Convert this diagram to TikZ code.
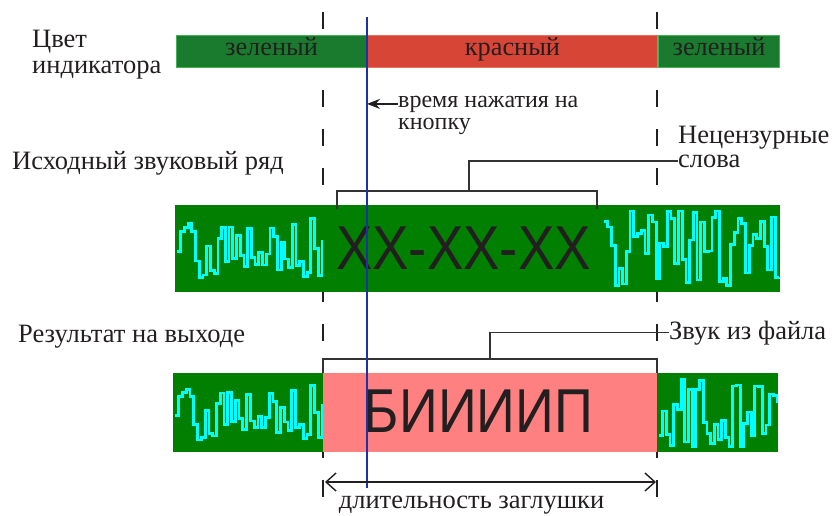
\documentclass[tikz,border=0pt]{standalone}
\usepackage{fontspec}
\setmainfont{Liberation Serif}
\newfontfamily\bigsansA[FakeStretch=0.88]{Liberation Sans}
\newfontfamily\bigsansB[FakeStretch=0.87]{Liberation Sans}
\usetikzlibrary{arrows.meta}
\definecolor{topgreen}{HTML}{1A7B2E}
\definecolor{topgreenedge}{HTML}{45B055}
\definecolor{topred}{HTML}{D74537}
\definecolor{toprededge}{HTML}{E8705F}
\definecolor{wavegreen}{HTML}{007F00}
\definecolor{wavecyan}{HTML}{00FFFF}
\definecolor{beeppink}{HTML}{FF8080}
\definecolor{pressblue}{HTML}{2030A8}
\definecolor{inktext}{HTML}{231F20}
\definecolor{brackgray}{HTML}{333333}
\begin{document}
\begin{tikzpicture}[x=1pt,y=-1pt,
  lbl/.style={font=\fontsize{26.5}{28}\selectfont, text=inktext, inner sep=0pt, anchor=base west},
  indbar/.style={font=\fontsize{26.3}{28}\selectfont, text=inktext, inner sep=0pt, outer sep=0pt, line width=1.2pt, minimum height=32pt, text height=8pt, text depth=0pt},
  wavebar/.style={inner sep=0pt, outer sep=0pt, draw=none},
  bigtxt/.style={font=\fontsize{62}{64}\selectfont, text=inktext, inner sep=0pt},
  guide/.style={draw=inktext, line width=1.3pt, dash pattern=on 17pt off 22pt},
  brk/.style={draw=brackgray, line width=1.4pt},
  wave/.style={draw=wavecyan, line width=2.8pt, line join=miter},
]
\useasboundingbox (0,0) rectangle (832,515);

% guide lines (dashed)
\coordinate (gl1) at (323,12);  \coordinate (gl2) at (323,505);
\coordinate (gr1) at (657,12);  \coordinate (gr2) at (657,505);
\draw[guide] (gl1) -- (gl2);
\draw[guide] (gr1) -- (gr2);

% indicator bar
\node[lbl] (cvet) at (32,47) {Цвет};
\node[lbl] (indik) at (32,73) {индикатора};
\node[indbar, fill=topgreen, draw=topgreenedge, minimum width=190pt] (ig1) at (271.5,51.5) {зеленый};
\node[indbar, fill=topred, draw=toprededge, minimum width=290pt] (ir) at (512.5,51.5) {красный};
\node[indbar, fill=topgreen, draw=topgreenedge, minimum width=121pt] (ig2) at (719,51.5) {зеленый};

% press time
\node[lbl, font=\fontsize{24}{26}\selectfont] (press1) at (398,107) {время нажатия на};
\node[lbl, font=\fontsize{24}{26}\selectfont] (press2) at (398,129) {кнопку};

% source sound row
\node[lbl] (src) at (12,169) {Исходный звуковый ряд};
\node[lbl] (nec1) at (678,143) {Нецензурные};
\node[lbl] (nec2) at (678,167) {слова};

\node[wavebar, fill=wavegreen, minimum width=605pt, minimum height=87pt] (w1) at (477.5,248.5) {};
\begin{scope}
  \clip (175,205) rectangle (780,292);
  \pgfmathsetseed{11}
  \draw[wave] plot[const plot, samples=40, domain=177:322] (\x,{249+sin(90*rand)*(21+19*((\x-250)/72)^2)});
  \pgfmathsetseed{23}
  \draw[wave] plot[const plot, samples=48, domain=604:779] (\x,{249+38*sin(90*rand)});
\end{scope}
\node[bigtxt, font=\bigsansA\fontsize{62}{64}\selectfont] (xx) at (463.5,248.5) {XX-XX-XX};

% bracket over obscene words
\coordinate (b1l) at (337,209); \coordinate (b1r) at (597,209);
\coordinate (b1lt) at (337,191); \coordinate (b1rt) at (597,191);
\coordinate (b1s) at (469,191);
\draw[brk] (b1l) -- (b1lt) -- (b1rt) -- (b1r);
\draw[brk] (b1s) |- (nec2.west);

% output row
\node[lbl] (res) at (18,342) {Результат на выходе};
\node[lbl] (zvuk) at (669,339) {Звук из файла};

\node[wavebar, fill=wavegreen, minimum width=150pt, minimum height=79pt] (w2l) at (248,412.5) {};
\node[wavebar, fill=wavegreen, minimum width=121pt, minimum height=79pt] (w2r) at (717.5,412.5) {};
\begin{scope}
  \clip (173,373) rectangle (778,452);
  \pgfmathsetseed{11}
  \draw[wave] plot[const plot, samples=40, domain=175:322] (\x,{413+0.92*sin(90*rand)*(21+19*((\x-250)/72)^2)});
  \pgfmathsetseed{37}
  \draw[wave] plot[const plot, samples=33, domain=659:777] (\x,{413+34*sin(90*rand)});
\end{scope}
\node[wavebar, fill=beeppink, minimum width=334pt, minimum height=79pt] (beep) at (490,412.5) {};
\node[bigtxt, font=\bigsansB\fontsize{62}{64}\selectfont] (biip) at (478.5,411.5) {БИИИИП};

% bracket over file sound
\coordinate (b2l) at (323,373); \coordinate (b2r) at (657,373);
\coordinate (b2lt) at (323,359); \coordinate (b2rt) at (657,359);
\coordinate (b2s) at (490,359);
\draw[brk] (b2l) -- (b2lt) -- (b2rt) -- (b2r);
\draw[brk] (b2s) |- (zvuk.west);

% press time line
\coordinate (pt) at (367,17); \coordinate (pb) at (367,488);
\draw[pressblue, line width=2.6pt] (pt) -- (pb);
\draw[inktext, line width=1.4pt, -{Stealth[length=13pt,width=10pt]}] (press1.west) -- (press1.west -| pt);

% duration arrow
\coordinate (dl) at (325,482); \coordinate (dr) at (656,482);
\draw[inktext, line width=1.4pt, {Straight Barb[length=10pt,width=18pt]}-{Straight Barb[length=10pt,width=18pt]}] (dl) -- (dr);
\node[lbl, anchor=base] (dur) at (471.5,508.5) {длительность заглушки};
\end{tikzpicture}
\end{document}
